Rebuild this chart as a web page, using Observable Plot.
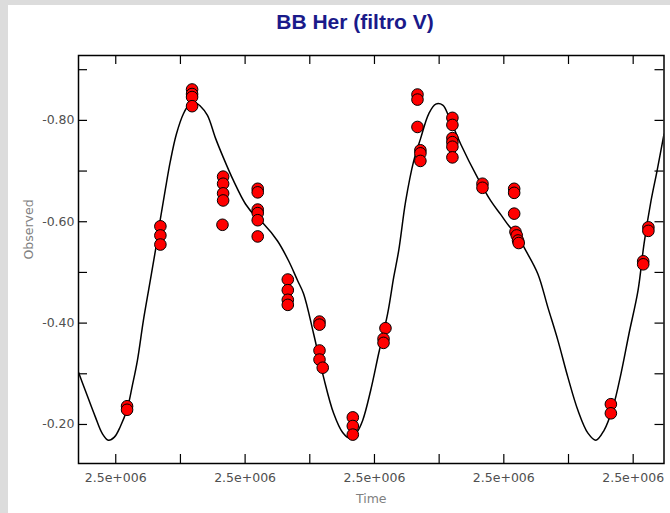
<!DOCTYPE html>
<html>
<head>
<meta charset="utf-8">
<script src="https://cdn.jsdelivr.net/npm/d3@7"></script>
<script src="https://cdn.jsdelivr.net/npm/@observablehq/plot@0.6"></script>
<style>
  html, body { margin: 0; padding: 0; background: #dcdcdc; width: 670px; height: 513px; overflow: hidden; }
  #panel { position: absolute; left: 8px; top: 5px; width: 662px; height: 508px; background: #ffffff; }
  #title { position: absolute; left: 347px; top: 6px; transform: translateX(-50%); white-space: nowrap;
           font-family: "Liberation Sans", Arial, sans-serif; font-weight: bold; font-size: 21px; line-height: 21px; color: #1a1a8a; }
  #chart { position: absolute; left: 0; top: 35px; }
</style>
</head>
<body>
<div id="panel">
  <div id="title"></div>
  <div id="chart"></div>
</div>
<script>
// ---- data ----
const chartTitle = "BB Her (filtro V)";
const xLabel = "Time";
const yLabel = "Observed";

// observations: Julian Date and magnitude
const obsTime = [
  2456000.35, 2456000.35,
  2456001.38, 2456001.38, 2456001.38,
  2456002.36, 2456002.36, 2456002.36, 2456002.36,
  2456003.32, 2456003.32, 2456003.32, 2456003.32, 2456003.30,
  2456004.39, 2456004.39, 2456004.39, 2456004.39, 2456004.39, 2456004.39,
  2456005.32, 2456005.32, 2456005.32, 2456005.32,
  2456006.30, 2456006.30, 2456006.30, 2456006.30, 2456006.40,
  2456007.33, 2456007.33, 2456007.33,
  2456008.34, 2456008.28, 2456008.28,
  2456009.33, 2456009.33, 2456009.33, 2456009.42, 2456009.42, 2456009.42,
  2456010.41, 2456010.41, 2456010.41, 2456010.41, 2456010.41, 2456010.41,
  2456011.34, 2456011.34,
  2456012.32, 2456012.32, 2456012.32, 2456012.36, 2456012.40, 2456012.44, 2456012.46,
  2456015.31, 2456015.31,
  2456016.31, 2456016.31, 2456016.47, 2456016.47
];
const obsMag = [
  -0.236, -0.229,
  -0.591, -0.573, -0.555,
  -0.861, -0.852, -0.846, -0.828,
  -0.689, -0.675, -0.656, -0.642, -0.594,
  -0.665, -0.658, -0.624, -0.617, -0.603, -0.571,
  -0.486, -0.465, -0.446, -0.436,
  -0.403, -0.397, -0.346, -0.328, -0.312,
  -0.214, -0.197, -0.180,
  -0.390, -0.369, -0.361,
  -0.851, -0.841, -0.787, -0.741, -0.735, -0.720,
  -0.805, -0.791, -0.765, -0.757, -0.748, -0.727,
  -0.675, -0.667,
  -0.665, -0.657, -0.616, -0.580, -0.573, -0.563, -0.558,
  -0.240, -0.222,
  -0.522, -0.516, -0.589, -0.582
];

// fitted light curve
const fitTime = [
  2455998.848, 2455999.059, 2455999.368, 2455999.585, 2455999.771, 2455999.957,
  2456000.142, 2456000.359, 2456000.514, 2456000.669, 2456000.854, 2456001.040,
  2456001.226, 2456001.381, 2456001.536, 2456001.690, 2456001.876, 2456002.093,
  2456002.279, 2456002.433, 2456002.619, 2456002.836, 2456003.084, 2456003.331,
  2456003.641, 2456004.012, 2456004.328, 2456004.570, 2456005.003, 2456005.344,
  2456005.622, 2456005.808, 2456006.118, 2456006.427, 2456006.737, 2456007.016,
  2456007.232, 2456007.449, 2456007.635, 2456007.882, 2456008.130, 2456008.409,
  2456008.594, 2456008.749, 2456008.966, 2456009.214, 2456009.430, 2456009.678,
  2456009.895, 2456010.111, 2456010.297, 2456010.669, 2456011.195, 2456011.598,
  2456011.907, 2456012.155, 2456012.402, 2456012.681, 2456013.053, 2456013.362,
  2456013.672, 2456013.982, 2456014.291, 2456014.601, 2456014.848, 2456015.096,
  2456015.375, 2456015.622, 2456015.870, 2456016.149, 2456016.334, 2456016.551,
  2456016.737, 2456016.953
];
const fitMag = [
  -0.303, -0.267, -0.215, -0.182, -0.169, -0.175,
  -0.196, -0.232, -0.277, -0.326, -0.405, -0.474,
  -0.543, -0.606, -0.665, -0.720, -0.773, -0.813,
  -0.832, -0.836, -0.828, -0.810, -0.765, -0.726,
  -0.681, -0.635, -0.610, -0.596, -0.562, -0.523,
  -0.484, -0.458, -0.379, -0.293, -0.222, -0.184,
  -0.173, -0.184, -0.208, -0.267, -0.340, -0.419,
  -0.490, -0.543, -0.641, -0.720, -0.765, -0.813,
  -0.832, -0.830, -0.808, -0.753, -0.686, -0.641,
  -0.614, -0.592, -0.574, -0.543, -0.497, -0.431,
  -0.366, -0.293, -0.228, -0.183, -0.169, -0.188,
  -0.234, -0.300, -0.379, -0.464, -0.556, -0.641,
  -0.700, -0.773
];

// axis settings
const xDomain = [2455998.848, 2456016.953];
const yDomain = [-0.123, -0.928];
const xTicks = [2456000, 2456002, 2456004, 2456006, 2456008, 2456010, 2456012, 2456014, 2456016];
const xLabelTicks = [2456000, 2456004, 2456008, 2456012, 2456016];
const yTicks = [-0.9, -0.8, -0.7, -0.6, -0.5, -0.4, -0.3, -0.2];
const yLabelTicks = [-0.8, -0.6, -0.4, -0.2];

// ---- build ----
const obs = obsTime.map((t, i) => ({t, m: obsMag[i]}));
const fit = fitTime.map((t, i) => ({t, m: fitMag[i]}));

const W = 662, H = 473, mL = 70, mR = 6.5, mT = 15, mB = 50;
const innerW = W - mL - mR, innerH = H - mT - mB, tickLen = 9;

// "2.5e+006" style exponent format
const sciFmt = d => d.toExponential(1).replace(/e([+-])(\d+)/, (s, sg, ex) => "e" + sg + ex.padStart(3, "0"));

document.getElementById("title").textContent = chartTitle;

const chart = Plot.plot({
  width: W, height: H,
  marginLeft: mL, marginRight: mR, marginTop: mT, marginBottom: mB,
  style: {fontFamily: "'DejaVu Sans', sans-serif", fontSize: "12.5px", background: "transparent", overflow: "visible"},
  x: {type: "linear", domain: xDomain},
  y: {type: "linear", domain: yDomain},
  marks: [
    Plot.line(fit, {x: "t", y: "m", curve: "catmull-rom", stroke: "black", strokeWidth: 1.5, clip: true}),
    Plot.ruleX(xTicks, {x: d => d, insetTop: innerH - tickLen, stroke: "black", strokeWidth: 1.2}),
    Plot.ruleX(xTicks, {x: d => d, insetBottom: innerH - tickLen, stroke: "black", strokeWidth: 1.2}),
    Plot.ruleY(yTicks, {y: d => d, insetRight: innerW - tickLen, stroke: "black", strokeWidth: 1.2}),
    Plot.ruleY(yTicks, {y: d => d, insetLeft: innerW - tickLen, stroke: "black", strokeWidth: 1.2}),
    Plot.frame({stroke: "black", strokeWidth: 1.5}),
    Plot.axisX({ticks: xLabelTicks, tickSize: 0, tickPadding: 10, tickFormat: sciFmt, label: null, fill: "#505050"}),
    Plot.axisY({ticks: yLabelTicks, tickSize: 0, tickPadding: 4, tickFormat: d => d.toFixed(2), label: null, fill: "#505050"}),
    Plot.dot(obs, {x: "t", y: "m", r: 5.8, fill: "#ff0000", stroke: "black", strokeWidth: 1}),
    Plot.text([xLabel], {frameAnchor: "bottom", dy: 39, text: d => d, fill: "#808080", fontSize: 12.5}),
    Plot.text([yLabel], {frameAnchor: "left", dx: -50, rotate: -90, text: d => d, fill: "#808080", fontSize: 12.5})
  ]
});
document.getElementById("chart").appendChild(chart);
</script>
</body>
</html>
